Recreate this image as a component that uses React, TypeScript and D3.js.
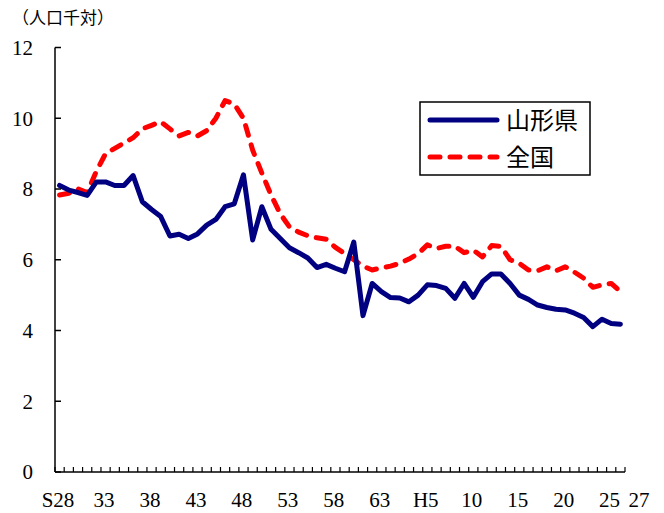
import React from 'react'
import * as d3 from 'd3'

// categories (Western years, S28 = 1953 ... H26 = 2014)
const years = [
  1953, 1954, 1955, 1956, 1957, 1958, 1959, 1960, 1961, 1962,
  1963, 1964, 1965, 1966, 1967, 1968, 1969, 1970, 1971, 1972,
  1973, 1974, 1975, 1976, 1977, 1978, 1979, 1980, 1981, 1982,
  1983, 1984, 1985, 1986, 1987, 1988, 1989, 1990, 1991, 1992,
  1993, 1994, 1995, 1996, 1997, 1998, 1999, 2000, 2001, 2002,
  2003, 2004, 2005, 2006, 2007, 2008, 2009, 2010, 2011, 2012,
  2013, 2014,
]

// marriage rate per 1000, Yamagata
const yamagata = [
  8.1, 7.97, 7.9, 7.82, 8.2, 8.2, 8.1, 8.1, 8.38, 7.64,
  7.42, 7.22, 6.67, 6.72, 6.6, 6.73, 6.98, 7.14, 7.5, 7.58,
  8.4, 6.56, 7.5, 6.86, 6.6, 6.34, 6.2, 6.05, 5.78, 5.87,
  5.76, 5.66, 6.5, 4.42, 5.33, 5.1, 4.93, 4.92, 4.81, 5.0,
  5.29, 5.27, 5.19, 4.91, 5.33, 4.94, 5.38, 5.6, 5.6, 5.33,
  5.0, 4.88, 4.72, 4.65, 4.6, 4.58, 4.49, 4.37, 4.11, 4.32,
  4.2, 4.18,
]

// marriage rate per 1000, whole country
const national = [
  7.83, 7.88, 8.0, 7.9, 8.5, 9.0, 9.15, 9.3, 9.45, 9.7,
  9.8, 9.9, 9.7, 9.5, 9.6, 9.5, 9.65, 10.0, 10.5, 10.4,
  10.0, 9.1, 8.45, 7.83, 7.3, 6.93, 6.78, 6.68, 6.62, 6.58,
  6.35, 6.18, 6.0, 5.82, 5.71, 5.77, 5.82, 5.9, 6.02, 6.17,
  6.42, 6.32, 6.38, 6.38, 6.2, 6.27, 6.08, 6.4, 6.38, 6.0,
  5.9, 5.71, 5.69, 5.8, 5.69, 5.8, 5.65, 5.48, 5.22, 5.29,
  5.33, 5.1,
]

const tickYears = [1953, 1958, 1963, 1968, 1973, 1978, 1983, 1988, 1993, 1998, 2003, 2008, 2013, 2015]
const tickLabels = ['S28', '33', '38', '43', '48', '53', '58', '63', 'H5', '10', '15', '20', '25', '27']
const yTicks = [0, 2, 4, 6, 8, 10, 12]

const seriesNames = ['山形県', '全国']

const W = 664
const H = 513
const serif = '"Liberation Serif", "DejaVu Serif", serif'
const jp = '"Noto Sans CJK JP", sans-serif'

export default function App() {
  const left = 55, right = 625, top = 47.5, bottom = 472

  const x = d3.scaleBand<number>().domain(years).range([left, right]).padding(0)
  const xEdge = d3.scaleLinear().domain([1953, 2015]).range([left, right])
  const y = d3.scaleLinear().domain([0, 12]).range([bottom, top])
  const cx = (yr: number) => (x(yr) as number) + x.bandwidth() / 2

  const line = d3.line<number>()
    .x((_, i) => cx(years[i]))
    .y(d => y(d))

  const tickEdges = years.map(yr => x(yr) as number).concat([right])

  return (
    <>
      <style>{'body{margin:0}'}</style>
      <svg width={W} height={H} style={{ display: 'block', background: '#fff' }}>
        <text x={12} y={24} fontSize={17} fontFamily={jp} fill="#000">（人口千対）</text>

        {/* lines */}
        <path d={line(national) || ''} fill="none" stroke="#ff0000" strokeWidth={5}
          strokeDasharray="10 10" strokeLinecap="round" strokeLinejoin="round" />
        <path d={line(yamagata) || ''} fill="none" stroke="#000080" strokeWidth={5}
          strokeLinejoin="round" strokeLinecap="round" />

        {/* axes */}
        <line x1={left} x2={left} y1={top} y2={bottom} stroke="#000" strokeWidth={1.5} />
        <line x1={left} x2={right} y1={bottom} y2={bottom} stroke="#000" strokeWidth={1.5} />
        {yTicks.map(t => (
          <g key={t}>
            <line x1={left} x2={left + 6} y1={y(t)} y2={y(t)} stroke="#000" strokeWidth={1.5} />
            <text x={33} y={y(t)} dy="0.35em" textAnchor="end" fontSize={21} fontFamily={serif}>{t}</text>
          </g>
        ))}
        {tickEdges.map((e, i) => (
          <line key={i} x1={e} x2={e} y1={bottom} y2={bottom - 5} stroke="#000" strokeWidth={1.2} />
        ))}
        {tickYears.map((yr, i) => (
          <text key={yr} x={xEdge(yr) + 3 + (i === tickYears.length - 1 ? 11 : 0)} y={507}
            textAnchor="middle" fontSize={21} fontFamily={serif}>{tickLabels[i]}</text>
        ))}

        {/* legend */}
        <rect x={420} y={102} width={170} height={73} fill="#fff" stroke="#000" strokeWidth={1.5} />
        <line x1={430} x2={497} y1={120} y2={120} stroke="#000080" strokeWidth={5} strokeLinecap="round" />
        <line x1={430} x2={497} y1={157} y2={157} stroke="#ff0000" strokeWidth={5}
          strokeDasharray="10 10" strokeLinecap="round" />
        <text x={506} y={129} fontSize={24} fontFamily={jp}>{seriesNames[0]}</text>
        <text x={506} y={166} fontSize={24} fontFamily={jp}>{seriesNames[1]}</text>
      </svg>
    </>
  )
}
